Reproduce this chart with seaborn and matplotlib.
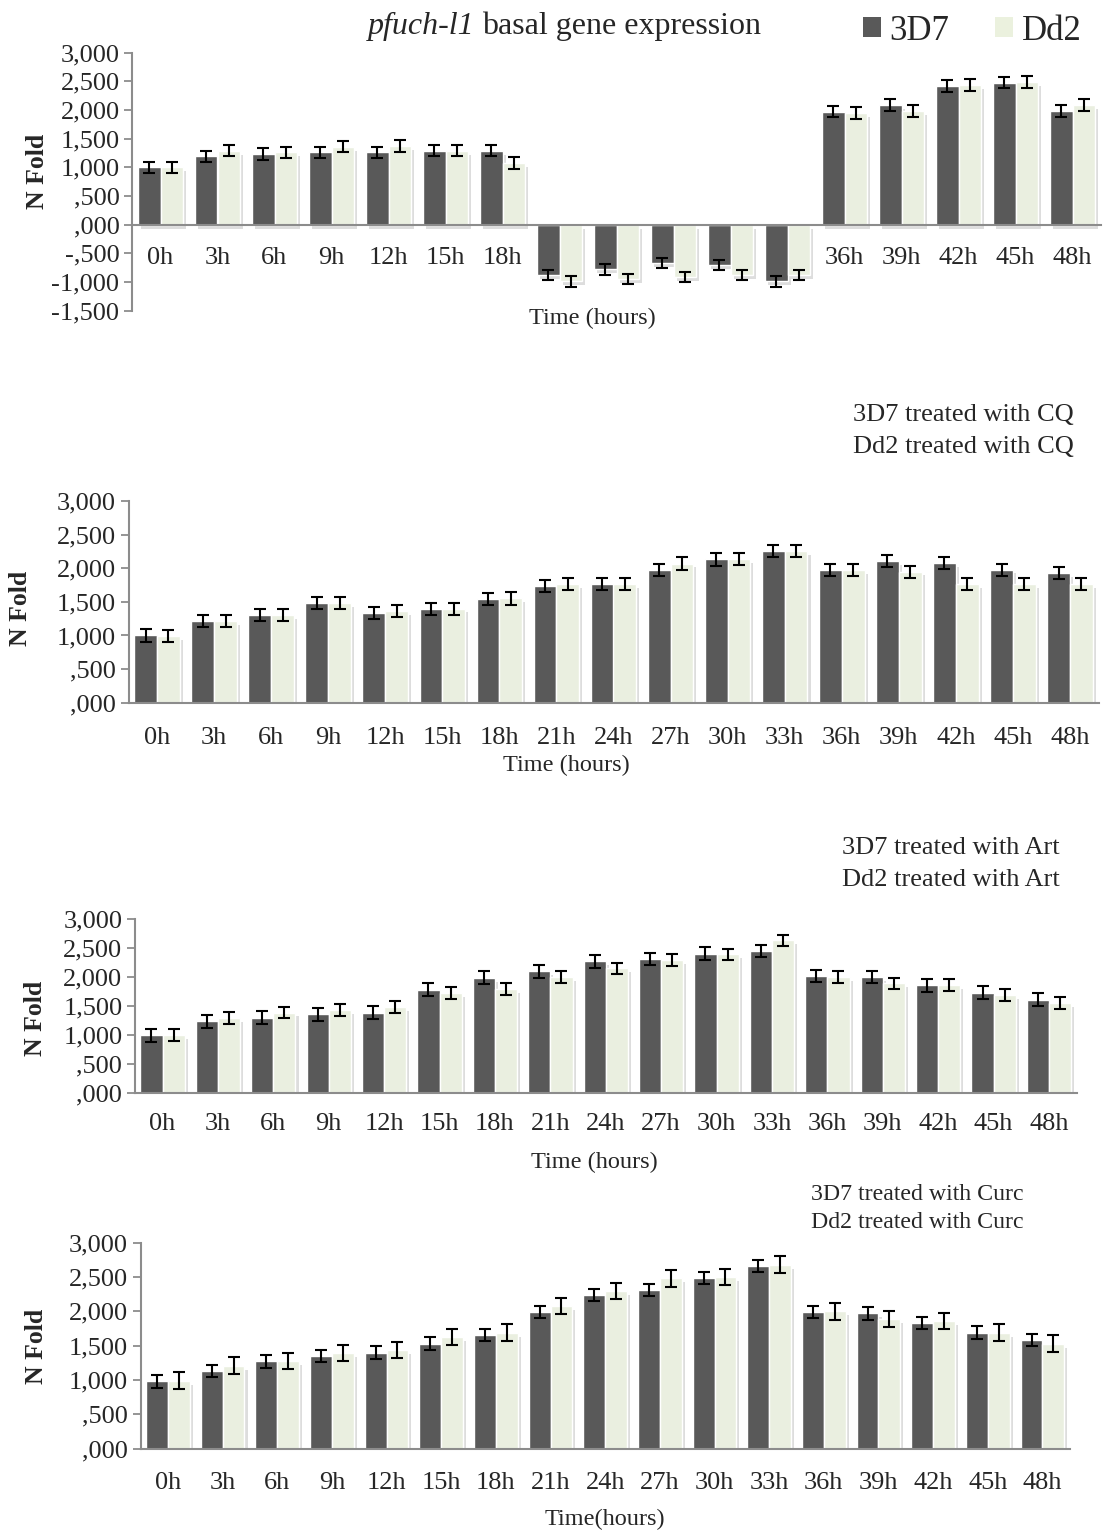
import matplotlib
matplotlib.use("Agg")
import matplotlib.pyplot as plt
import numpy as np
import pandas as pd
import seaborn as sns
from matplotlib import patheffects as pe
from matplotlib.patches import Patch
from matplotlib.ticker import FuncFormatter

# ---- data -------------------------------------------------------------
hours = ["0h", "3h", "6h", "9h", "12h", "15h", "18h", "21h", "24h",
         "27h", "30h", "33h", "36h", "39h", "42h", "45h", "48h"]
strains = ["3D7", "Dd2"]

basal_3d7 = [1.00, 1.19, 1.23, 1.26, 1.26, 1.29, 1.29, -0.88, -0.78,
             -0.67, -0.70, -0.99, 1.97, 2.09, 2.42, 2.48, 1.98]
basal_dd2 = [1.00, 1.29, 1.26, 1.36, 1.37, 1.29, 1.08, -0.99, -0.95,
             -0.91, -0.88, -0.88, 1.95, 1.98, 2.44, 2.49, 2.09]
basal_err_3d7 = [0.10, 0.10, 0.10, 0.10, 0.10, 0.10, 0.10, 0.09, 0.09,
                 0.09, 0.09, 0.09, 0.10, 0.10, 0.10, 0.10, 0.10]
basal_err_dd2 = [0.10, 0.10, 0.10, 0.10, 0.10, 0.10, 0.10, 0.09, 0.09,
                 0.09, 0.09, 0.09, 0.10, 0.10, 0.10, 0.10, 0.10]

cq_3d7 = [1.00, 1.21, 1.31, 1.48, 1.34, 1.39, 1.54, 1.74, 1.76,
          1.98, 2.13, 2.26, 1.98, 2.11, 2.08, 1.98, 1.93]
cq_dd2 = [0.99, 1.22, 1.31, 1.48, 1.36, 1.40, 1.55, 1.76, 1.77,
          2.07, 2.14, 2.26, 1.97, 1.95, 1.76, 1.76, 1.76]
cq_err_3d7 = [0.09, 0.09, 0.09, 0.09, 0.09, 0.09, 0.09, 0.09, 0.09,
              0.09, 0.09, 0.09, 0.09, 0.09, 0.09, 0.09, 0.09]
cq_err_dd2 = [0.09, 0.09, 0.09, 0.09, 0.09, 0.09, 0.09, 0.09, 0.09,
              0.09, 0.09, 0.09, 0.09, 0.09, 0.09, 0.09, 0.09]

art_3d7 = [1.00, 1.24, 1.30, 1.36, 1.39, 1.78, 1.99, 2.10, 2.27,
           2.31, 2.40, 2.45, 2.02, 2.00, 1.86, 1.73, 1.61]
art_dd2 = [1.00, 1.30, 1.39, 1.43, 1.49, 1.73, 1.79, 2.00, 2.15,
           2.29, 2.39, 2.63, 2.00, 1.89, 1.86, 1.69, 1.55]
art_err_3d7 = [0.11, 0.11, 0.11, 0.11, 0.11, 0.11, 0.11, 0.11, 0.11,
               0.11, 0.11, 0.11, 0.11, 0.11, 0.11, 0.11, 0.11]
art_err_dd2 = [0.10, 0.10, 0.10, 0.10, 0.10, 0.10, 0.10, 0.10, 0.10,
               0.10, 0.10, 0.10, 0.10, 0.10, 0.10, 0.10, 0.10]

curc_3d7 = [0.98, 1.13, 1.27, 1.35, 1.40, 1.53, 1.66, 1.99, 2.24,
            2.31, 2.49, 2.66, 1.99, 1.97, 1.83, 1.69, 1.58]
curc_dd2 = [0.99, 1.21, 1.28, 1.39, 1.44, 1.63, 1.69, 2.08, 2.30,
            2.48, 2.50, 2.68, 2.00, 1.89, 1.86, 1.69, 1.53]
curc_err_3d7 = [0.09, 0.09, 0.09, 0.09, 0.09, 0.09, 0.09, 0.09, 0.09,
                0.09, 0.09, 0.09, 0.09, 0.09, 0.09, 0.09, 0.09]
curc_err_dd2 = [0.12, 0.12, 0.12, 0.12, 0.12, 0.12, 0.12, 0.12, 0.12,
                0.12, 0.12, 0.12, 0.12, 0.12, 0.12, 0.12, 0.12]

# ---- style ------------------------------------------------------------
sns.set_theme(style="white")
plt.rcParams["font.family"] = ["Liberation Serif", "DejaVu Serif"]

DARK = "#595959"
LIGHT = "#EBF1DE"
AXIS_GREY = "#8C8C8C"
palette = {"3D7": DARK, "Dd2": LIGHT}

W, H = 1106, 1532
fig = plt.figure(figsize=(W / 100, H / 100), dpi=100)


def px_rect(left, right, top, bottom):
    return [left / W, 1 - bottom / H, (right - left) / W, (bottom - top) / H]


def fold_label(v, _pos=None):
    sign = "-" if v < -1e-9 else ""
    a = abs(v)
    whole = int(a + 1e-9)
    frac = f"{a - whole:.3f}".split(".")[1]
    return f"{sign}{whole if whole else ''},{frac}"


def draw_panel(rect, v3d7, vdd2, e3d7, edd2, ylim, xpad):
    ax = fig.add_axes(rect)
    df = pd.DataFrame({
        "time": hours * 2,
        "strain": ["3D7"] * len(hours) + ["Dd2"] * len(hours),
        "fold": list(v3d7) + list(vdd2),
    })
    sns.barplot(data=df, x="time", y="fold", hue="strain", order=hours,
                hue_order=strains, palette=palette, errorbar=None,
                width=0.8, edgecolor="white", linewidth=1.0,
                legend=False, ax=ax)
    shadow = [pe.SimplePatchShadow(offset=(2.2, -2.8), shadow_rgbFace="#8f8f8f",
                                   alpha=0.3), pe.Normal()]
    for p in ax.patches:
        p.set_path_effects(shadow)
    for cont, vals, errs in zip(ax.containers, [v3d7, vdd2], [e3d7, edd2]):
        xs = [p.get_x() + p.get_width() / 2 for p in cont]
        ax.errorbar(xs, vals, yerr=errs, fmt="none", ecolor="black",
                    elinewidth=1.5, capsize=4.5, capthick=1.5, zorder=4)

    ax.set_xlim(-0.5, len(hours) - 0.5)
    ax.set_ylim(*ylim)
    ax.set_yticks(np.arange(ylim[0], ylim[1] + 0.001, 0.5))
    ax.yaxis.set_major_formatter(FuncFormatter(fold_label))
    ax.set_xlabel("")
    ax.set_ylabel("")
    for side in ("top", "right"):
        ax.spines[side].set_visible(False)
    for side in ("left", "bottom"):
        ax.spines[side].set_color(AXIS_GREY)
        ax.spines[side].set_linewidth(1.5)
    if ylim[0] < 0:
        ax.spines["bottom"].set_position(("data", 0))
    ax.spines["bottom"].set_zorder(3)
    ax.tick_params(axis="y", direction="out", length=6, width=1.3,
                   color=AXIS_GREY, labelsize=19, pad=3, left=True)
    ax.tick_params(axis="x", length=0, labelsize=19, pad=xpad)
    ax.set_facecolor("none")
    return ax


ax_basal = draw_panel(px_rect(132, 1101, 52.7, 310.7), basal_3d7, basal_dd2,
                      basal_err_3d7, basal_err_dd2, (-1.5, 3.0), 16)
draw_panel(px_rect(128.5, 1098.5, 501, 702.7), cq_3d7, cq_dd2,
           cq_err_3d7, cq_err_dd2, (0.0, 3.0), 17.5)
draw_panel(px_rect(134.8, 1076.7, 919, 1093.3), art_3d7, art_dd2,
           art_err_3d7, art_err_dd2, (0.0, 3.0), 14)
draw_panel(px_rect(140.6, 1069.8, 1242.7, 1448.7), curc_3d7, curc_dd2,
           curc_err_3d7, curc_err_dd2, (0.0, 3.0), 17)


def ftext(x, y, s, **kw):
    return fig.text(x / W, 1 - y / H, s, **kw)


# y-axis titles
for x, y in [(38, 171), (20.5, 608), (36, 1018), (36.5, 1346)]:
    ftext(x, y, "N Fold", rotation=90, ha="center", va="center",
          fontsize=18.5, fontweight="bold")

# x-axis titles
ftext(592, 318, "Time (hours)", ha="center", va="center", fontsize=17.5)
ftext(566, 765, "Time (hours)", ha="center", va="center", fontsize=17.5)
ftext(594, 1162, "Time (hours)", ha="center", va="center", fontsize=17.5)
ftext(605, 1519, "Time(hours)", ha="center", va="center", fontsize=17.5)

# main title with italic gene name
t1 = ftext(368, 34, "pfuch-l1", ha="left", va="baseline", fontsize=23,
           fontstyle="italic")
ax_basal.annotate("basal gene expression", xy=(1, 0), xycoords=t1,
                  xytext=(5.5, 0), textcoords="offset points",
                  ha="left", va="bottom", fontsize=23,
                  annotation_clip=False)

# treatment captions
ftext(1074, 415, "3D7 treated with CQ", ha="right", va="center", fontsize=19)
ftext(1074, 447, "Dd2 treated with CQ", ha="right", va="center", fontsize=19)
ftext(1060, 848, "3D7 treated with Art", ha="right", va="center", fontsize=19)
ftext(1060, 880, "Dd2 treated with Art", ha="right", va="center", fontsize=19)
ftext(1024, 1195, "3D7 treated with Curc", ha="right", va="center", fontsize=17.2)
ftext(1024, 1223, "Dd2 treated with Curc", ha="right", va="center", fontsize=17.2)

# strain legend
handles = [Patch(facecolor=palette[s], edgecolor="none", label=s) for s in strains]
fig.legend(handles=handles, loc="center left", ncol=2, frameon=False,
           bbox_to_anchor=(863 / W, 1 - 31 / H), fontsize=25,
           handlelength=0.52, handleheight=0.52, handletextpad=0.25,
           columnspacing=1.3, borderpad=0, borderaxespad=0)

fig.savefig("out.png", dpi=100)
